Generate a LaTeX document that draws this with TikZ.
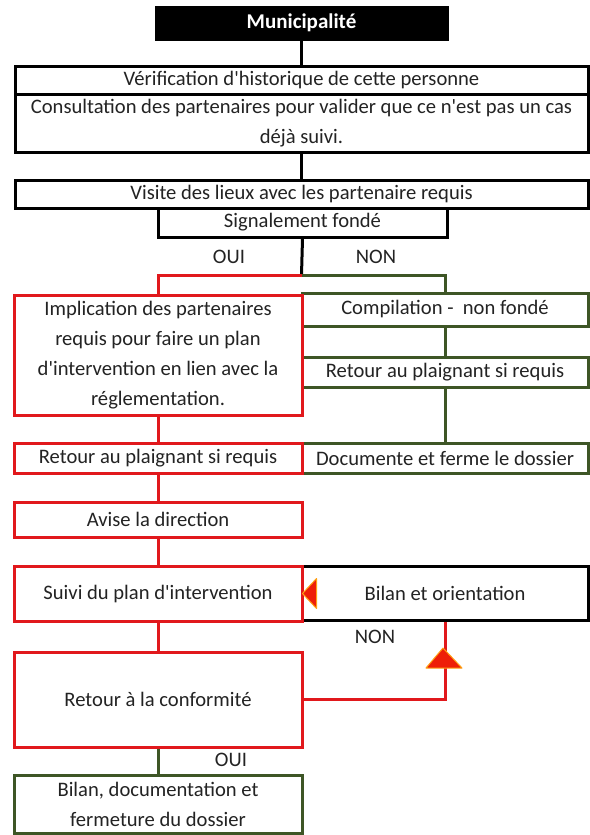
\documentclass[tikz,border=0pt]{standalone}
\usepackage{fontspec}
\setmainfont{Carlito}
\usetikzlibrary{calc}
\definecolor{rred}{RGB}{225,24,28}
\definecolor{ggreen}{RGB}{62,86,38}
\definecolor{txt}{RGB}{35,35,35}
\definecolor{trifill}{RGB}{238,30,8}
\definecolor{triedge}{RGB}{255,160,20}
\newcommand{\apos}{\textquotesingle}
\tikzset{
  every node/.style={font=\fontsize{20.6}{30}\selectfont, text=txt},
  box/.style={draw=#1, line width=3pt, rectangle, inner sep=0pt, align=center},
  lnk/.style={draw=#1, line width=3pt},
  trimark/.style={fill=trifill, draw=triedge, line width=1pt, line join=round}
}
\begin{document}
\begin{tikzpicture}[x=1pt,y=-1pt]
\path[fill=white,use as bounding box] (0,0) rectangle (589,835);
% top black part
\node[box=black, fill=black, text=white, font=\bfseries\fontsize{21}{24}\selectfont, minimum width=291pt, minimum height=32pt] (muni) at (301.5,23) {Municipalité};
\node[box=black, minimum width=573pt, minimum height=28pt] (verif) at (301.5,80) {Vérification d\apos historique de cette personne};
\node[box=black, minimum width=573pt, minimum height=58pt] (consult) at (301.5,123) {Consultation des partenaires pour valider que ce n\apos est pas un cas\\déjà suivi.};
\node[box=black, minimum width=573pt, minimum height=28pt] (visite) at (301.5,194) {Visite des lieux avec les partenaire requis};
\node[box=black, minimum width=289pt, minimum height=29pt] (signal) at (302.5,222.5) {Signalement fondé};
% right column (green / black)
\node[box=ggreen, minimum width=286pt, minimum height=33pt] (compil) at (445,309.5) {Compilation -\ \ non fondé};
\node[box=ggreen, minimum width=286pt, minimum height=30pt] (retourG) at (445,372) {Retour au plaignant si requis};
\node[box=ggreen, minimum width=286pt, minimum height=30pt] (docu) at (445,458) {Documente et ferme le dossier};
\node[box=black, minimum width=286pt, minimum height=54pt] (bilanO) at (445,593.5) {Bilan et orientation};
% left column (red / green)
\node[box=rred, minimum width=288pt, minimum height=120pt] (impl) at (158,355) {Implication des partenaires\\requis pour faire un plan\\d\apos intervention en lien avec la\\réglementation.};
\node[box=rred, minimum width=288pt, minimum height=30pt] (retourR) at (158,458) {Retour au plaignant si requis};
\node[box=rred, minimum width=288pt, minimum height=35pt] (avise) at (158,519.5) {Avise la direction};
\node[box=rred, minimum width=288pt, minimum height=55pt] (suivi) at (158,593.5) {Suivi du plan d\apos intervention};
\node[box=rred, minimum width=288pt, minimum height=95pt] (conf) at (158,699.5) {Retour à la conformité};
\node[box=ggreen, minimum width=288pt, minimum height=58pt] (bilanD) at (158,804) {Bilan, documentation et\\fermeture du dossier};
% labels
\node (oui1) at (229,257) {OUI};
\node (non1) at (376,257) {NON};
\node (non2) at (375,637) {NON};
\node (oui2) at (231,760) {OUI};
% connectors
\coordinate (split) at (301.5,275);
\draw[lnk=black] (muni.south) -- (verif.north);
\draw[lnk=black] (consult.south) -- (visite.north);
\draw[lnk=black] (signal.south) -- (split);
\draw[lnk=rred] (split) -| (impl.north);
\draw[lnk=ggreen] (split) -| (compil.north);
\draw[lnk=ggreen] (compil.south) -- (retourG.north);
\draw[lnk=ggreen] (retourG.south) -- (docu.north);
\draw[lnk=rred] (impl.south) -- (retourR.north);
\draw[lnk=rred] (retourR.south) -- (avise.north);
\draw[lnk=rred] (avise.south) -- (suivi.north);
\draw[lnk=rred] (suivi.south) -- (conf.north);
\draw[lnk=rred] (conf.east) -| (bilanO.south);
\draw[lnk=ggreen] (conf.south) -- (bilanD.north);
% arrow marks
\path[trimark] ($(bilanO.south)+(-19,46)$) -- ($(bilanO.south)+(17,46)$) -- ($(bilanO.south)+(-2,26)$) -- cycle;
\path[trimark] ($(bilanO.west)+(2,0)$) -- ($(bilanO.west)+(16,-15)$) -- ($(bilanO.west)+(16,15)$) -- cycle;
\end{tikzpicture}
\end{document}
